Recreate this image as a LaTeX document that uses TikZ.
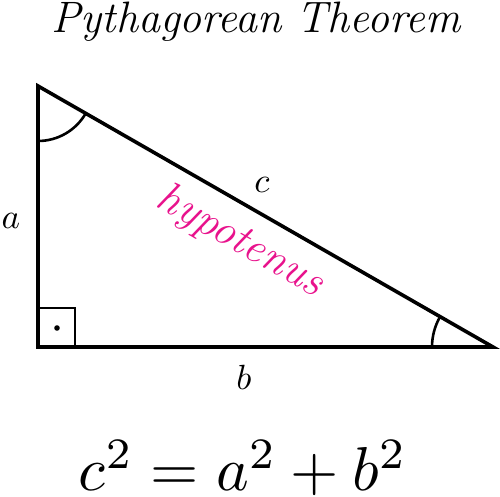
\documentclass[tikz,border=0pt]{standalone}
\usepackage{xcolor}
\definecolor{hypmag}{RGB}{232,18,140}
\begin{document}
\begin{tikzpicture}[x=1pt,y=-1pt,
  edge/.style={line width=3.6pt,line join=miter},
  thin/.style={line width=2.6pt},
  lbl/.style={inner sep=0pt,scale=3.5}]
\useasboundingbox (0,0) rectangle (500,497);
\coordinate (A) at (38,86);
\coordinate (C) at (38,347);
\coordinate (B) at (493,347);
\draw[edge] (A) -- (C) -- (B) -- cycle;
% right angle box
\coordinate (R1) at (38,308);
\coordinate (R2) at (75,308);
\coordinate (R3) at (75,347);
\draw[thin] (R1) -- (R2) -- (R3);
\fill (57,328) circle (2.8);
% angle arcs
\draw[thin] (38,141) arc[start angle=90, end angle=29.84, radius=55];
\draw[thin] (432,347) arc[start angle=180, end angle=209.84, radius=61];
% labels
\node[lbl] (la) at (11,221) {$a$};
\node[lbl] (lb) at (244,377) {$b$};
\node[lbl] (lc) at (262,185) {$c$};
\node[inner sep=0pt,text=hypmag,rotate=-29.8,font=\fontsize{44}{50}\selectfont\itshape] (hyp) at (240,242) {hypotenus};
\node[inner sep=0pt,font=\fontsize{44}{52}\selectfont\itshape] (title) at (256,22) {Pythagorean Theorem};
\node[inner sep=0pt,scale=6.2] (eq) at (243,468) {$c^2=a^2+b^2$};
\end{tikzpicture}
\end{document}
